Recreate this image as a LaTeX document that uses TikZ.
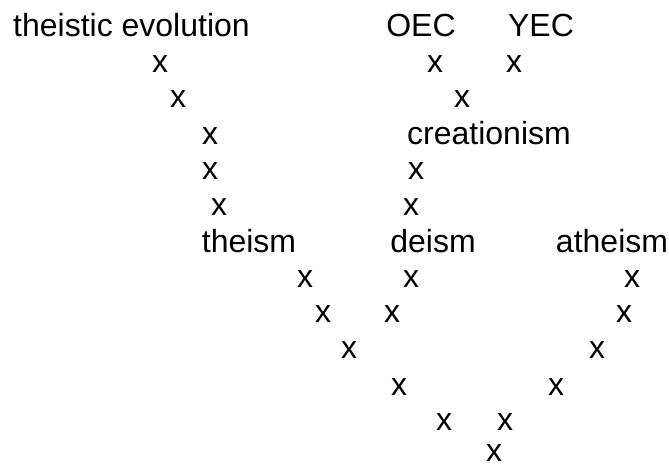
\documentclass[tikz,border=0pt]{standalone}
\usepackage{fontspec}
\setmainfont{Liberation Sans}
\begin{document}
\begin{tikzpicture}[x=1pt,y=-1pt,
  lbl/.style={inner sep=0pt,anchor=base,font=\fontsize{32}{38}\selectfont},
  mk/.style={lbl}]
\useasboundingbox (0,0) rectangle (669,465);
% row 1
\node[lbl] (te) at (131.5,37) {theistic evolution};
\node[lbl] (oec) at (421,37) {OEC};
\node[lbl] (yec) at (541,37) {YEC};
% row 2
\node[mk] (a1) at (160,73) {x};
\node[mk] (o1) at (435,73) {x};
\node[mk] (y1) at (514,73) {x};
% row 3
\node[mk] (a2) at (178,108) {x};
\node[mk] (c0) at (462,108) {x};
% row 4
\node[mk] (a3) at (210,145) {x};
\node[lbl] (cre) at (489,145) {creationism};
% row 5
\node[mk] (a4) at (210,180) {x};
\node[mk] (c1) at (416,180) {x};
% row 6
\node[mk] (a5) at (219,215) {x};
\node[mk] (c2) at (411,215) {x};
% row 7
\node[lbl] (the) at (249,252) {theism};
\node[lbl] (dei) at (433,252) {deism};
\node[lbl] (ath) at (612,252) {atheism};
% row 8
\node[mk] (t1) at (305,287) {x};
\node[mk] (d1) at (411,287) {x};
\node[mk] (h1) at (632,287) {x};
% row 9
\node[mk] (t2) at (323,322) {x};
\node[mk] (d2) at (392,322) {x};
\node[mk] (h2) at (624,322) {x};
% row 10
\node[mk] (t3) at (349,358) {x};
\node[mk] (h3) at (597,358) {x};
% row 11
\node[mk] (t4) at (399,395) {x};
\node[mk] (h4) at (556,395) {x};
% row 12
\node[mk] (t5) at (444,430) {x};
\node[mk] (h5) at (505,430) {x};
% row 13
\node[mk] (bot) at (494,461) {x};
\end{tikzpicture}
\end{document}
